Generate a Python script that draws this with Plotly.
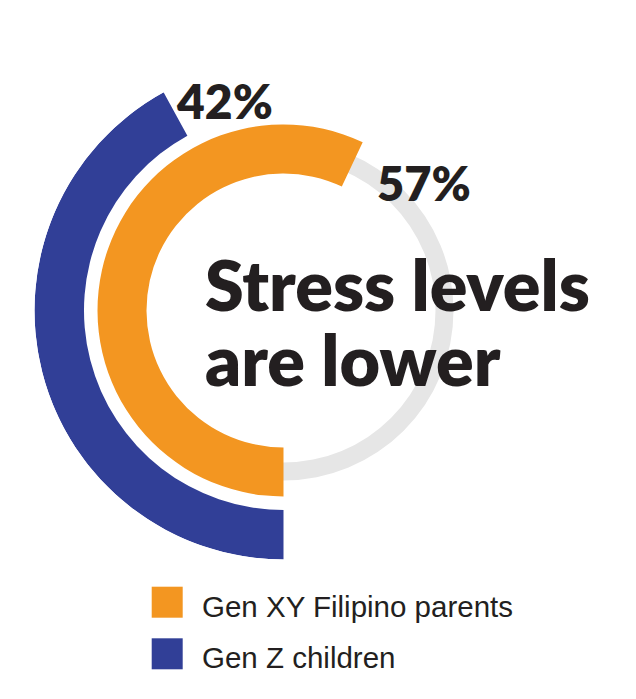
import plotly.graph_objects as go

# Survey result: share reporting that stress levels are lower
groups = ["Gen XY Filipino parents", "Gen Z children"]
shares = [57, 42]  # percent
colors = ["#F39621", "#313F97"]

W, H = 636, 699
CX, CY = 283.5, 310.5          # ring centre in pixels (from top-left)
R_MAX = 249                    # outer radius of the outermost ring, px

# ring geometry (inner radius, thickness) in radial-axis units (= px)
rings = {"Gen XY Filipino parents": (137, 49), "Gen Z children": (199.5, 49.5)}
track = (152, 18)


def px(x):
    return x / W


def py(y):
    return 1 - y / H


fig = go.Figure()

# light grey track behind the parents' ring
fig.add_trace(go.Barpolar(
    r=[track[1]], base=[track[0]], theta=[180], width=[360],
    marker=dict(color="#E6E6E6", line=dict(width=0)),
    showlegend=False, hoverinfo="skip",
))

for name, val, col in zip(groups, shares, colors):
    base, thick = rings[name]
    span = 360 * val / 100
    fig.add_trace(go.Barpolar(
        r=[thick], base=[base], theta=[span / 2], width=[span],
        marker=dict(color=col, line=dict(width=0)),
        name=name, showlegend=False,
    ))

fig.update_layout(
    width=W, height=H,
    margin=dict(l=0, r=0, t=0, b=0),
    paper_bgcolor="white", plot_bgcolor="white",
    polar=dict(
        domain=dict(x=[px(CX - R_MAX), px(CX + R_MAX)],
                    y=[py(CY + R_MAX), py(CY - R_MAX)]),
        bgcolor="rgba(0,0,0,0)",
        radialaxis=dict(range=[0, R_MAX], visible=False),
        angularaxis=dict(rotation=270, direction="clockwise", visible=False),
        bargap=0,
    ),
)

bold = "Lato, Roboto, sans-serif"
dark = "#231F20"

# percentage labels at the ring ends
labels = {"Gen Z children": (174, 100, 48), "Gen XY Filipino parents": (375, 183, 47)}
for name, val in zip(groups, shares):
    x, y, size = labels[name]
    fig.add_annotation(x=px(x), y=py(y), xref="paper", yref="paper",
                       text=f"{val}%", showarrow=False,
                       xanchor="left", yanchor="middle",
                       font=dict(family=bold, size=size, color=dark, weight=800))

# headline in the centre
for line, y in [("Stress levels", 284), ("are lower", 359)]:
    fig.add_annotation(x=px(203), y=py(y), xref="paper", yref="paper",
                       text=line, showarrow=False,
                       xanchor="left", yanchor="middle",
                       font=dict(family=bold, size=70, color=dark, weight=800))

# legend
for i, (name, col) in enumerate(zip(groups, colors)):
    top = 586.7 + i * 51.6
    fig.add_shape(type="rect", xref="paper", yref="paper",
                  x0=px(151.7), x1=px(182.7), y0=py(top + 31), y1=py(top),
                  fillcolor=col, line=dict(width=0))
    fig.add_annotation(x=px(200), y=py(top + 19.5), xref="paper", yref="paper",
                       text=name, showarrow=False, xanchor="left", yanchor="middle",
                       font=dict(family="Liberation Sans, Arial, sans-serif", size=29.5, color=dark))

fig.write_html("out.html")
